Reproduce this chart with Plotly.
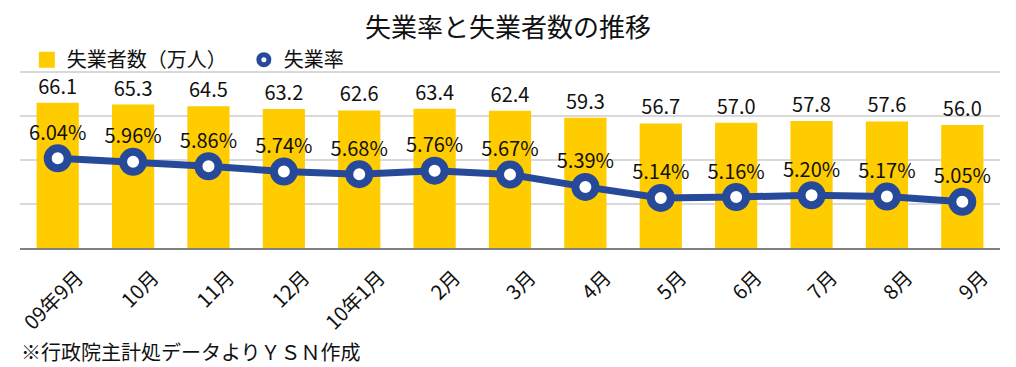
import plotly.graph_objects as go

categories = ["09年9月", "10月", "11月", "12月", "10年1月", "2月", "3月", "4月", "5月", "6月", "7月", "8月", "9月"]
unemployed = [66.1, 65.3, 64.5, 63.2, 62.6, 63.4, 62.4, 59.3, 56.7, 57.0, 57.8, 57.6, 56.0]
rate = [6.04, 5.96, 5.86, 5.74, 5.68, 5.76, 5.67, 5.39, 5.14, 5.16, 5.20, 5.17, 5.05]

FONT = "Noto Sans CJK JP, Noto Sans, sans-serif"
BAR = "#FFCC00"
LINE = "#27499A"

fig = go.Figure()
fig.add_trace(go.Bar(
    x=categories, y=unemployed, name="失業者数（万人）",
    marker=dict(color=BAR, line=dict(width=0)),
    text=[f"{v:.1f}" for v in unemployed], textposition="outside",
    textfont=dict(size=20, color="#111111", family=FONT),
    cliponaxis=False, yaxis="y", showlegend=False,
))
fig.add_trace(go.Scatter(
    x=categories, y=rate, name="失業率", mode="lines+markers+text",
    line=dict(color=LINE, width=7),
    marker=dict(size=20, color="white", line=dict(color=LINE, width=8)),
    text=[f"{v:.2f}%" for v in rate], textposition="top center",
    textfont=dict(size=20, color="#111111", family=FONT),
    cliponaxis=False, yaxis="y2", showlegend=False,
))
# legend entries
fig.add_trace(go.Scatter(
    x=[None], y=[None], name="失業者数（万人）", mode="markers",
    marker=dict(size=16, symbol="square", color=BAR),
    yaxis="y", showlegend=True,
))
fig.add_trace(go.Scatter(
    x=[None], y=[None], name="失業率", mode="markers",
    marker=dict(size=10, color="white", line=dict(color=LINE, width=5)),
    yaxis="y2", showlegend=True,
))

fig.update_layout(
    width=1016, height=367,
    margin=dict(l=20, r=16, t=70, b=119, autoexpand=False),
    paper_bgcolor="white", plot_bgcolor="white",
    font=dict(family=FONT, color="#111111"),
    title=dict(text="失業率と失業者数の推移", x=0.5, xanchor="center", y=0.924, yanchor="middle",
               font=dict(size=26, family=FONT, color="#111111")),
    bargap=0.44,
    legend=dict(orientation="h", x=0.007, xanchor="left", y=1.058, yanchor="middle",
                font=dict(size=20, family=FONT), bgcolor="rgba(0,0,0,0)",
                itemwidth=30, traceorder="normal", entrywidth=172, entrywidthmode="pixels"),
    xaxis=dict(type="category", range=[-0.5, len(categories) - 0.5], tickangle=-45,
               tickfont=dict(size=20, family=FONT),
               showline=True, linecolor="#808080", linewidth=2, ticks="",
               showgrid=False, automargin=False, ticklabelshift=20, ticklabelstandoff=8),
    yaxis=dict(range=[0, 81], tickvals=[20, 40, 60, 80], showgrid=True, gridcolor="#D9D9D9", gridwidth=1.5,
               showticklabels=False, zeroline=False, showline=False, automargin=False),
    yaxis2=dict(range=[4, 8.05], dtick=1, overlaying="y", side="right", showgrid=False,
                showticklabels=False, zeroline=False, showline=False, automargin=False),
    annotations=[dict(text="※行政院主計処データよりＹＳＮ作成", xref="paper", yref="paper",
                      x=0, xanchor="left", y=-0.58, yanchor="middle", xshift=-1,
                      showarrow=False, font=dict(size=20, family=FONT, color="#111111"))],
)

fig.write_html("out.html", config={"displayModeBar": False},
               post_script="document.body.style.margin='0';document.body.style.padding='0';")
